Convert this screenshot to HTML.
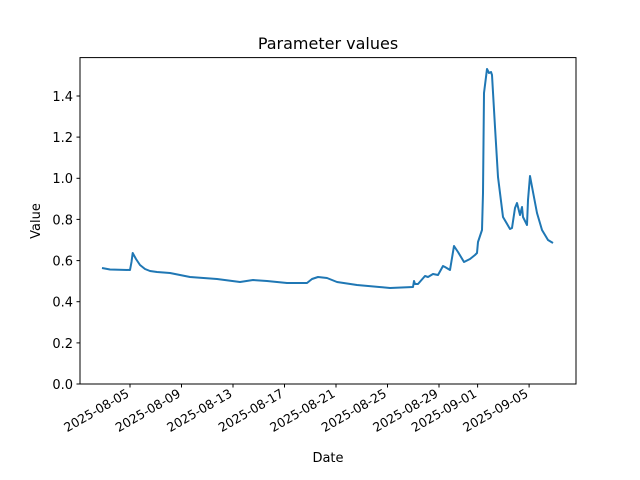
<!DOCTYPE html>
<html><head><meta charset="utf-8"><style>body{margin:0;background:#fff}svg{display:block}</style></head><body>
<svg width="640" height="480" xmlns="http://www.w3.org/2000/svg" font-family="DejaVu Sans, Liberation Sans, sans-serif">
<rect width="640" height="480" fill="#fff"/>
<text x="328" y="49" font-size="16" text-anchor="middle">Parameter values</text>
<g font-size="13" text-anchor="end">
<g stroke="#000" stroke-width="1">
<line x1="76.5" y1="384" x2="80" y2="384"/><line x1="76.5" y1="342.9" x2="80" y2="342.9"/><line x1="76.5" y1="301.7" x2="80" y2="301.7"/><line x1="76.5" y1="260.6" x2="80" y2="260.6"/><line x1="76.5" y1="219.4" x2="80" y2="219.4"/><line x1="76.5" y1="178.3" x2="80" y2="178.3"/><line x1="76.5" y1="137.1" x2="80" y2="137.1"/><line x1="76.5" y1="96" x2="80" y2="96"/>
</g>
<text x="73" y="389">0.0</text><text x="73" y="348">0.2</text><text x="73" y="306.5">0.4</text><text x="73" y="265.5">0.6</text><text x="73" y="224.5">0.8</text><text x="73" y="183">1.0</text><text x="73" y="142">1.2</text><text x="73" y="101">1.4</text>
</g>
<text transform="translate(40,221) rotate(-90)" font-size="13" text-anchor="middle">Value</text>
<g stroke="#000" stroke-width="1">
<line x1="130" y1="384" x2="130" y2="387.5"/><line x1="181.5" y1="384" x2="181.5" y2="387.5"/><line x1="233" y1="384" x2="233" y2="387.5"/><line x1="284.5" y1="384" x2="284.5" y2="387.5"/><line x1="336" y1="384" x2="336" y2="387.5"/><line x1="387.5" y1="384" x2="387.5" y2="387.5"/><line x1="439" y1="384" x2="439" y2="387.5"/><line x1="477.6" y1="384" x2="477.6" y2="387.5"/><line x1="529.1" y1="384" x2="529.1" y2="387.5"/>
</g>
<g font-size="12.5" text-anchor="end">
<text transform="translate(130,396) rotate(-30)">2025-08-05</text>
<text transform="translate(181.5,396) rotate(-30)">2025-08-09</text>
<text transform="translate(233,396) rotate(-30)">2025-08-13</text>
<text transform="translate(284.5,396) rotate(-30)">2025-08-17</text>
<text transform="translate(336,396) rotate(-30)">2025-08-21</text>
<text transform="translate(387.5,396) rotate(-30)">2025-08-25</text>
<text transform="translate(439,396) rotate(-30)">2025-08-29</text>
<text transform="translate(477.6,396) rotate(-30)">2025-09-01</text>
<text transform="translate(529.1,396) rotate(-30)">2025-09-05</text>
</g>
<text x="328" y="462" font-size="13" text-anchor="middle">Date</text>
<polyline fill="none" stroke="#1f77b4" stroke-width="2" stroke-linejoin="round" points="102,268 110,269.5 130,270 131.5,262 132.7,253 136,259 140,265 145,269 150,271 157,272 170,273 190,277 217,279 240,282 253,280 267,281 287,283 307,283 312,279 318,277 327,278 337,282 357,285 390,288 413,287 414,281 415,284 418,284 425,276 428,277 433,274 438,275 443,266 445,267 450,270 452,258 454,246 458,252 464,262 470,259 475,255 477,253 478,242 482,230 483,193 484,93 486,77 487,69 489,73 491,72 492,75 495,127 498,177 503,217 510,229 512,228 515,208 517,203 520,215 522,207 523,217 527,225 528,200 530,176 533,192 537,213 542,230 548,240 553,243"/>
<rect x="80" y="57.6" width="496" height="326.4" fill="none" stroke="#000" stroke-width="1"/>
</svg>
</body></html>
